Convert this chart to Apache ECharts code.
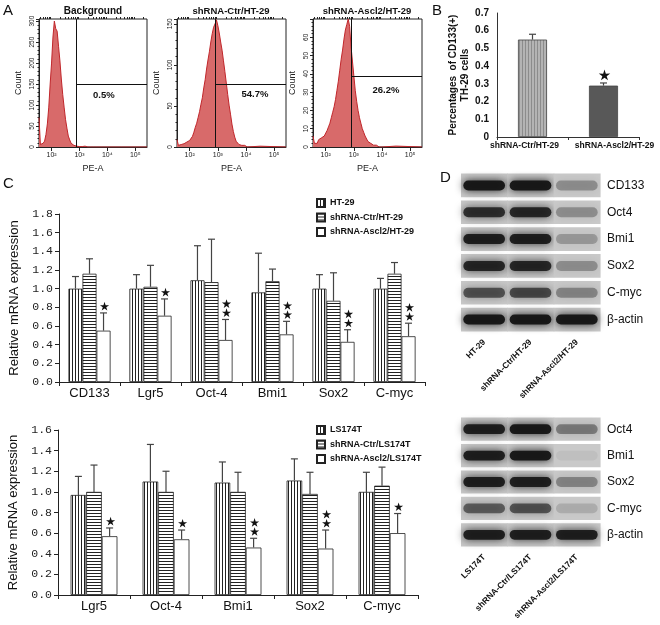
<!DOCTYPE html>
<html>
<head>
<meta charset="utf-8">
<script src="https://cdn.jsdelivr.net/npm/echarts@6/dist/echarts.min.js"></script>
<style>
html,body{margin:0;padding:0;background:#fff;}
#main{width:660px;height:625px;}
</style>
</head>
<body>
<div id="main"></div>
<script>
// ---------- A : flow histograms (x in log10 of PE-A) ----------
var peLog = [1.55,1.60,1.65,1.70,1.75,1.80,1.85,1.90,1.95,2.00,
             2.05,2.10,2.15,2.20,2.25,2.30,2.35,2.40,2.45,2.50,
             2.55,2.60,2.65,2.70,2.75,2.80,2.85,2.90,2.95,3.00,
             3.05,3.10,3.15,3.20,3.25,3.30,3.35,3.40,3.45,3.50,
             3.55,3.60,3.65,3.70,3.75,3.80,3.85,3.90,3.95,4.00,
             4.05,4.50,4.55,5.42];
var countBg = [70,6,4,9,14,30,55,95,150,200,
               262,300,282,276,240,205,162,125,95,66,
               45,26,17,9,6,4,3,2,3,1,
               2,1,1,2,1,0,1,0,0,0,
               0,0,0,0,0,0,0,0,0,0,
               0,0,0,0];
var countCtr = [9,2,1,3,2,4,3,6,5,8,
                10,13,18,24,29,36,43,52,60,72,
                82,95,106,116,128,138,146,150,155,148,
                139,128,118,105,92,78,64,51,40,28,
                19,12,7,5,3,3,2,1,2,1,
                0,1,0,0];
var countAscl = [6,2,3,2,4,3,5,4,6,7,
                 9,11,13,16,19,22,26,31,36,42,
                 48,53,59,64,67,70,66,55,47,39,
                 31,25,20,16,13,10,8,6,5,3,
                 3,2,1,1,1,1,0,0,0,0,
                 0,0.5,0,0];
var histTitles = ['Background', 'shRNA-Ctr/HT-29', 'shRNA-Ascl2/HT-29'];
var histCounts = [countBg, countCtr, countAscl];
var histMax = [305, 156, 70];
var histStep = [50, 50, 10];
var gateLog = 2.9;
var gateLevel = [150, 76, 38.6];
var gatePct = ['0.5%', '54.7%', '26.2%'];
var peTicks = [2, 3, 4, 5];
var peTickNames = {2: '10²', 3: '10³', 4: '10⁴', 5: '10⁵'};

// ---------- B ----------
var bCats = ['shRNA-Ctr/HT-29', 'shRNA-Ascl2/HT-29'];
var bVals = [0.55, 0.29];
var bErr = [0.58, 0.305];
var bStars = [0, 1];

// ---------- C ----------
var cTopCats = ['CD133', 'Lgr5', 'Oct-4', 'Bmi1', 'Sox2', 'C-myc'];
var cTopNames = ['HT-29', 'shRNA-Ctr/HT-29', 'shRNA-Ascl2/HT-29'];
var cTopVals = [[1.00, 1.00, 1.09, 0.96, 1.00, 1.00],
                [1.16, 1.02, 1.07, 1.08, 0.87, 1.16],
                [0.55, 0.71, 0.45, 0.51, 0.43, 0.49]];
var cTopErr = [[1.13, 1.15, 1.46, 1.38, 1.15, 1.11],
               [1.32, 1.25, 1.53, 1.21, 1.17, 1.28],
               [0.74, 0.89, 0.67, 0.65, 0.56, 0.63]];
var cTopStars = [1, 1, 2, 2, 2, 2];

var cBotCats = ['Lgr5', 'Oct-4', 'Bmi1', 'Sox2', 'C-myc'];
var cBotNames = ['LS174T', 'shRNA-Ctr/LS174T', 'shRNA-Ascl2/LS174T'];
var cBotVals = [[0.97, 1.10, 1.09, 1.11, 1.00],
                [1.00, 1.00, 1.00, 0.98, 1.06],
                [0.57, 0.54, 0.46, 0.45, 0.60]];
var cBotErr = [[1.15, 1.46, 1.29, 1.32, 1.19],
               [1.26, 1.20, 1.19, 1.19, 1.24],
               [0.65, 0.63, 0.55, 0.63, 0.79]];
var cBotStars = [1, 1, 2, 2, 1];

// ---------- D : western blot band intensity (0..1) ----------
var dTopLanes = ['HT-29', 'shRNA-Ctr/HT-29', 'shRNA-Ascl2/HT-29'];
var dTopProteins = ['CD133', 'Oct4', 'Bmi1', 'Sox2', 'C-myc', 'β-actin'];
var dTopBands = [[0.95, 0.95, 0.30],
                 [0.80, 0.85, 0.30],
                 [0.90, 0.90, 0.25],
                 [0.85, 0.85, 0.30],
                 [0.60, 0.65, 0.35],
                 [0.95, 0.95, 0.95]];
var dBotLanes = ['LS174T', 'shRNA-Ctr/LS174T', 'shRNA-Ascl2/LS174T'];
var dBotProteins = ['Oct4', 'Bmi1', 'Sox2', 'C-myc', 'β-actin'];
var dBotBands = [[0.90, 0.95, 0.40],
                 [0.90, 0.95, 0.05],
                 [0.90, 0.90, 0.35],
                 [0.55, 0.60, 0.15],
                 [0.90, 0.90, 0.90]];

var FONT = 'Liberation Sans, Arial, sans-serif';

function stripes(vertical, fg, bg, period) {
    var cv = document.createElement('canvas');
    cv.width = period; cv.height = period;
    var ctx = cv.getContext('2d');
    ctx.fillStyle = bg; ctx.fillRect(0, 0, period, period);
    ctx.fillStyle = fg;
    if (vertical) ctx.fillRect(0, 0, 1, period); else ctx.fillRect(0, 0, period, 1);
    return {image: cv, repeat: 'repeat'};
}
var fillVert = stripes(true, '#222', '#fff', 3);
var fillHorz = stripes(false, '#222', '#fff', 3);
var fillB = stripes(true, '#8c8c8c', '#b4b4b4', 3);
var groupFills = [fillVert, fillHorz, '#fff'];

function starPts(cx, cy, R, r) {
    var p = [];
    for (var i = 0; i < 10; i++) {
        var a = -Math.PI / 2 + i * Math.PI / 5;
        var rr = i % 2 ? r : R;
        p.push([cx + rr * Math.cos(a), cy + rr * Math.sin(a)]);
    }
    return p;
}

// error bar (upper whisker) + stars, k = bar index in group
function errRender(k, n, gap, fixedW, starR) {
    return function (params, api) {
        var c = api.coord([api.value(0), api.value(1)]);
        var t = api.coord([api.value(0), api.value(2)]);
        var band = api.size([1, 0])[0];
        var bw = fixedW || band * (1 - gap) / n;
        var x = c[0] + (k - (n - 1) / 2) * bw;
        var lc = '#444';
        var kids = [
            {type: 'line', shape: {x1: x, y1: c[1], x2: x, y2: t[1]}, style: {stroke: lc, lineWidth: 1.2}},
            {type: 'line', shape: {x1: x - 3.5, y1: t[1], x2: x + 3.5, y2: t[1]}, style: {stroke: lc, lineWidth: 1.2}}
        ];
        var s = api.value(3);
        for (var j = 0; j < s; j++) {
            kids.push({type: 'polygon', shape: {points: starPts(x + 1, t[1] - starR - 1.5 - j * (starR * 2 - 0.5), starR, starR * 0.38)},
                style: {fill: '#111'}});
        }
        return {type: 'group', children: kids};
    };
}

function blotRender(params, api) {
    var c = api.coord([api.value(0), api.value(1)]);
    var sz = api.size([1, 1]);
    var v = api.value(2);
    var sh = sz[1] * 0.88;
    var bh = sh * 0.42;
    return {type: 'group', children: [
        {type: 'rect', shape: {x: c[0] - sz[0] / 2, y: c[1] - sh / 2, width: sz[0] + 0.6, height: sh},
            style: {fill: '#c9c9c9'}},
        {type: 'rect', shape: {x: c[0] - sz[0] * 0.45, y: c[1] - bh / 2, width: sz[0] * 0.9, height: bh, r: bh / 2},
            style: {fill: 'rgba(20,20,20,' + v + ')', shadowBlur: 9, shadowColor: 'rgba(20,20,20,' + v + ')'}}
    ]};
}

var grids = [
    {left: 39, top: 19, width: 108, height: 128},
    {left: 177, top: 19, width: 109, height: 128},
    {left: 313, top: 19, width: 109, height: 128},
    {left: 497, top: 13, width: 142, height: 124},
    {left: 59, top: 214, width: 366, height: 168},
    {left: 58, top: 430, width: 360, height: 165},
    {left: 461, top: 172, width: 139, height: 161},
    {left: 461, top: 416, width: 139, height: 132}
];
grids.forEach(function (g) { g.outerBoundsMode = 'none'; g.containLabel = false; });
for (var gi = 0; gi < 3; gi++) {
    grids[gi].show = true;
    grids[gi].borderColor = '#222';
    grids[gi].borderWidth = 1;
    grids[gi].backgroundColor = 'transparent';
}

var minorPe = [];
for (var n = 1; n <= 5; n++) {
    for (var m = 2; m <= 9; m++) {
        var lv = Math.log10(m * Math.pow(10, n));
        if (lv > 1.55 && lv < 5.42) minorPe.push(lv);
    }
}

var xAxes = [], yAxes = [], series = [];
for (var h = 0; h < 3; h++) {
    xAxes.push({
        type: 'value', gridIndex: h, min: 1.55, max: 5.42,
        name: 'PE-A', nameLocation: 'middle', nameGap: 17,
        nameTextStyle: {fontSize: 9, color: '#222'},
        axisLine: {show: true, lineStyle: {color: '#222'}},
        axisTick: {show: true, length: 4, customValues: peTicks, lineStyle: {color: '#222'}},
        axisLabel: {customValues: peTicks, fontSize: 7, margin: 5, color: '#222',
            formatter: function (v) { return peTickNames[Math.round(v)]; }},
        splitLine: {show: false}
    });
    xAxes.push({
        type: 'value', gridIndex: h, min: 1.55, max: 5.42,
        axisLine: {show: false},
        axisTick: {show: true, length: 2, customValues: minorPe, lineStyle: {color: '#222'}},
        axisLabel: {show: false}, splitLine: {show: false}
    });
    yAxes.push({
        type: 'value', gridIndex: h, min: 0, max: histMax[h], interval: histStep[h],
        name: 'Count', nameLocation: 'middle', nameGap: 16,
        nameTextStyle: {fontSize: 9, color: '#222'},
        axisLine: {show: true, lineStyle: {color: '#222'}},
        axisTick: {show: true, length: 3, lineStyle: {color: '#222'}},
        minorTick: {show: true, splitNumber: 5, length: 1.5, lineStyle: {color: '#222'}},
        axisLabel: {rotate: 90, fontSize: 6.5, margin: 3, color: '#222', showMaxLabel: false},
        splitLine: {show: false}
    });
    series.push({
        type: 'line', xAxisIndex: 2 * h, yAxisIndex: h, showSymbol: false, silent: true,
        data: peLog.map(function (x, i) { return [x, histCounts[h][i]]; }),
        lineStyle: {color: '#c0262b', width: 1},
        areaStyle: {color: '#d86a6a', opacity: 1},
        markLine: {
            silent: true, symbol: 'none', animation: false,
            lineStyle: {color: '#111', width: 1, type: 'solid'},
            label: {show: false},
            data: [
                [{coord: [gateLog, 0]}, {coord: [gateLog, histMax[h]]}],
                [{coord: [gateLog, gateLevel[h]]}, {coord: [5.42, gateLevel[h]]}]
            ]
        }
    });
}

// B axes
xAxes.push({
    type: 'category', gridIndex: 3, data: bCats,
    axisLine: {lineStyle: {color: '#333'}},
    axisTick: {show: true, length: 3, lineStyle: {color: '#333'}},
    axisLabel: {interval: 0, hideOverlap: false, color: '#111', margin: 4,
        formatter: function (v, i) { return (i === 0 ? '{a|' : '{b|') + v + '}'; },
        rich: {
            a: {fontSize: 8.5, fontWeight: 'bold', color: '#111', padding: [0, 16, 0, 0]},
            b: {fontSize: 8.5, fontWeight: 'bold', color: '#111', padding: [0, 0, 0, 22]}
        }}
});
yAxes.push({
    type: 'value', gridIndex: 3, min: 0, max: 0.7, interval: 0.1,
    name: 'Percentages  of CD133(+)\nTH-29 cells', nameLocation: 'middle', nameGap: 24,
    nameTextStyle: {fontSize: 10, fontWeight: 'bold', color: '#111', lineHeight: 12},
    axisLine: {show: true, lineStyle: {color: '#333'}},
    axisTick: {show: false},
    axisLabel: {fontSize: 10, fontWeight: 'bold', color: '#111', margin: 8,
        formatter: function (v) { return v === 0 ? '0' : v.toFixed(1); }},
    splitLine: {show: false}
});
series.push({
    type: 'bar', xAxisIndex: 6, yAxisIndex: 3, barWidth: 29, silent: true,
    data: bVals.map(function (v, i) {
        return {value: v, itemStyle: {color: i === 0 ? fillB : '#585858', borderColor: '#444', borderWidth: 0.8}};
    })
});
series.push({
    type: 'custom', xAxisIndex: 6, yAxisIndex: 3, silent: true, z: 5,
    renderItem: errRender(0, 1, 0, 29, 6),
    data: bVals.map(function (v, i) { return [i, v, bErr[i], bStars[i]]; })
});

// C axes
function addBarChart(gridIdx, cats, names, vals, errs, stars, max, gap) {
    var xi = xAxes.length, yi = yAxes.length;
    xAxes.push({
        type: 'category', gridIndex: gridIdx, data: cats,
        axisLine: {lineStyle: {color: '#222'}},
        axisTick: {show: true, length: 4, lineStyle: {color: '#222'}},
        axisLabel: {fontSize: 13, color: '#111', margin: 5}
    });
    yAxes.push({
        type: 'value', gridIndex: gridIdx, min: 0, max: max, interval: 0.2,
        name: 'Relative mRNA expression', nameLocation: 'middle', nameGap: 36,
        nameTextStyle: {fontSize: 13, color: '#111'},
        axisLine: {show: true, lineStyle: {color: '#222'}},
        axisTick: {show: true, length: 4, lineStyle: {color: '#222'}},
        axisLabel: {fontSize: 11.5, fontFamily: 'Liberation Mono, Courier New, monospace', color: '#222', margin: 6,
            formatter: function (v) { return v.toFixed(1); }},
        splitLine: {show: false}
    });
    for (var k = 0; k < 3; k++) {
        series.push({
            type: 'bar', name: names[k], xAxisIndex: xi, yAxisIndex: yi, silent: true,
            barGap: '0%', barCategoryGap: gap * 100 + '%',
            itemStyle: {color: groupFills[k], borderColor: '#222', borderWidth: 0.8},
            data: vals[k]
        });
    }
    for (var k2 = 0; k2 < 3; k2++) {
        series.push({
            type: 'custom', xAxisIndex: xi, yAxisIndex: yi, silent: true, z: 5,
            renderItem: errRender(k2, 3, gap, 0, 4.8),
            data: cats.map(function (c, i) { return [i, vals[k2][i], errs[k2][i], k2 === 2 ? stars[i] : 0]; })
        });
    }
}
addBarChart(4, cTopCats, cTopNames, cTopVals, cTopErr, cTopStars, 1.8, 0.31);
addBarChart(5, cBotCats, cBotNames, cBotVals, cBotErr, cBotStars, 1.6, 0.35);

// D blots
function addBlot(gridIdx, lanes, proteins, bands) {
    var xi = xAxes.length, yi = yAxes.length;
    xAxes.push({
        type: 'category', gridIndex: gridIdx, data: lanes,
        axisLine: {show: false}, axisTick: {show: false},
        axisLabel: {rotate: 45, fontSize: 8.5, fontWeight: 'bold', color: '#111', margin: 8, interval: 0}
    });
    yAxes.push({
        type: 'category', gridIndex: gridIdx, data: proteins, inverse: true, position: 'right',
        axisLine: {show: false}, axisTick: {show: false},
        axisLabel: {fontSize: 12, color: '#111', margin: 7}
    });
    var d = [];
    bands.forEach(function (row, j) { row.forEach(function (v, i) { d.push([i, j, v]); }); });
    series.push({
        type: 'custom', xAxisIndex: xi, yAxisIndex: yi, silent: true,
        renderItem: blotRender, data: d
    });
}
addBlot(6, dTopLanes, dTopProteins, dTopBands);
addBlot(7, dBotLanes, dBotProteins, dBotBands);

function txt(t, x, y, size, weight, align) {
    return {type: 'text', x: x, y: y, silent: true,
        style: {text: t, fontSize: size, fontWeight: weight || 'normal', fill: '#111',
            fontFamily: FONT, textAlign: align || 'left', textVerticalAlign: 'middle'}};
}
var graphics = [
    txt('A', 3, 11, 15), txt('B', 432, 11, 15), txt('C', 3, 184, 15), txt('D', 440, 178, 15),
    txt(histTitles[0], 93, 11, 10, 'bold', 'center'),
    txt(histTitles[1], 231, 11, 9.5, 'bold', 'center'),
    txt(histTitles[2], 367, 11, 9.5, 'bold', 'center'),
    txt(gatePct[0], 93, 95, 9.5, 'bold', 'left'),
    txt(gatePct[1], 255, 94, 9.5, 'bold', 'center'),
    txt(gatePct[2], 386, 90, 9.5, 'bold', 'center')
];

var legendStyle = {orient: 'vertical', itemWidth: 8, itemHeight: 8, itemGap: 4.5, icon: 'rect',
    textStyle: {fontSize: 9, fontWeight: 'bold', color: '#111'}, selectedMode: false};

var chart = echarts.init(document.getElementById('main'), null, {renderer: 'canvas'});
chart.setOption({
    animation: false,
    backgroundColor: '#fff',
    textStyle: {fontFamily: FONT},
    grid: grids,
    xAxis: xAxes,
    yAxis: yAxes,
    legend: [
        Object.assign({left: 311, top: 193, data: cTopNames}, legendStyle),
        Object.assign({left: 311, top: 420, data: cBotNames}, legendStyle)
    ],
    graphic: graphics,
    series: series
});
</script>
</body>
</html>
